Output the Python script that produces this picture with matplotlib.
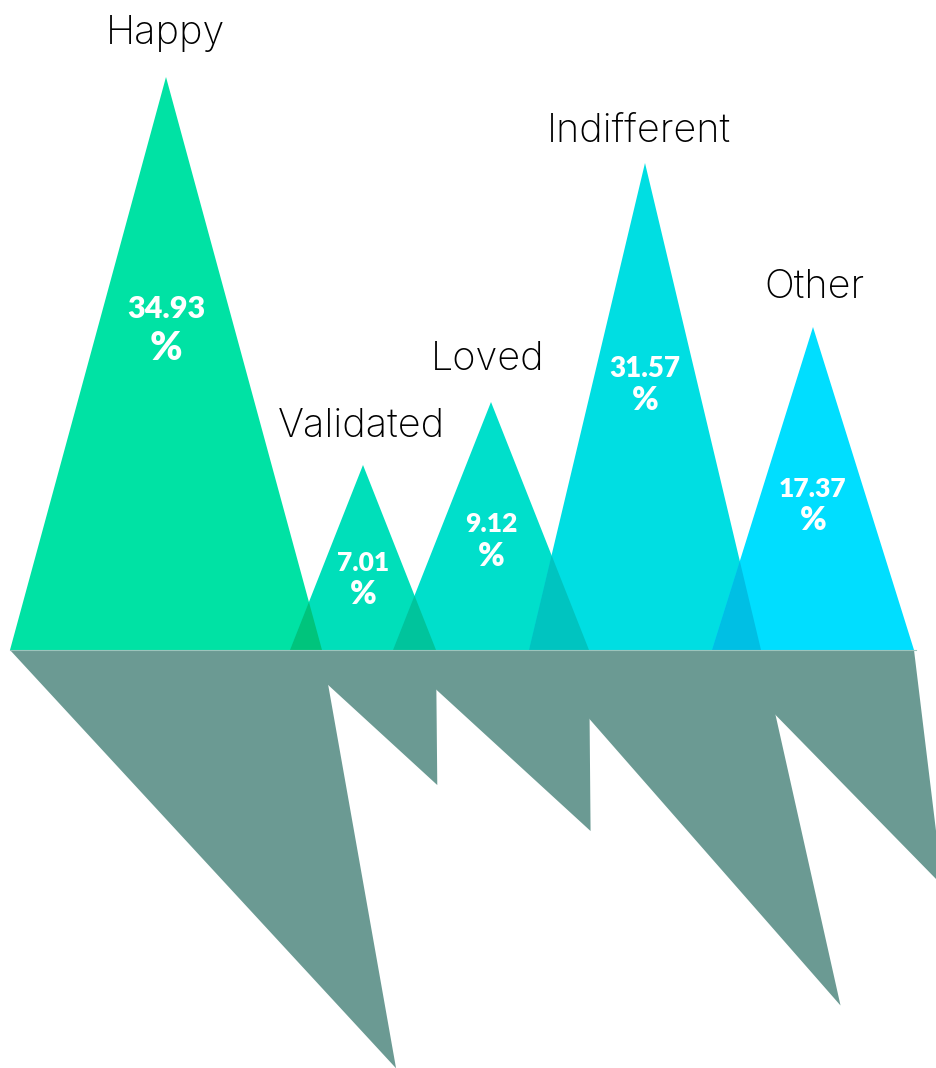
import matplotlib
matplotlib.use("Agg")
import matplotlib.pyplot as plt
from matplotlib.patches import Polygon

# ---- data ----
categories = ["Happy", "Validated", "Loved", "Indifferent", "Other"]
values = [34.93, 7.01, 9.12, 31.57, 17.37]          # percentage labels
peak_heights = [573, 185, 248, 487, 323]              # mountain heights (axis units)

# ---- geometry / style ----
centers = [166, 363, 491, 645, 813]
half_widths = [156, 73, 98, 116, 101]
base_y = 650
cat_label_x = [165, 361, 488, 639, 814]
cat_label_baseline = [44, 437, 370, 142, 298]
num_label_y = [309, 563, 524, 369, 489]
pct_label_y = [348, 594, 556, 401, 520]
num_fs = [22, 19, 19, 20, 19]
pct_fs = [28, 23, 23, 23, 23]
colors = ["#00E2A4", "#00DFBA", "#00DFCB", "#00DEE2", "#00DEFF"]
overlap_colors = ["#00C47C", "#00C49C", "#00C4C0", "#00BFE4"]
shadow_color = "#6B9A93"
shadow_depth = 0.73
shadow_skew = 0.55

W, H = 936, 1068
fig = plt.figure(figsize=(W / 100, H / 100), dpi=100)
ax = fig.add_axes([0, 0, 1, 1])
ax.set_xlim(0, W)
ax.set_ylim(H, 0)
ax.axis("off")

# shadows
for c, hw, h in zip(centers, half_widths, peak_heights):
    d = shadow_depth * h
    tip = (c + shadow_skew * d, base_y + d)
    ax.add_patch(Polygon([(c - hw, base_y), (c + hw, base_y), tip],
                         closed=True, facecolor=shadow_color, edgecolor="none", zorder=1))

# mountains
for c, hw, h, col in zip(centers, half_widths, peak_heights, colors):
    ax.add_patch(Polygon([(c - hw, base_y), (c, base_y - h), (c + hw, base_y)],
                         closed=True, facecolor=col, edgecolor="none", zorder=2))

# overlaps between neighbours
for i in range(len(centers) - 1):
    c1, hw1, h1 = centers[i], half_widths[i], peak_heights[i]
    c2, hw2, h2 = centers[i + 1], half_widths[i + 1], peak_heights[i + 1]
    R1 = c1 + hw1
    L2 = c2 - hw2
    if L2 >= R1:
        continue
    s1 = h1 / hw1
    s2 = h2 / hw2
    x = (s1 * R1 + s2 * L2) / (s1 + s2)
    y = base_y - s1 * (R1 - x)
    ax.add_patch(Polygon([(L2, base_y), (x, y), (R1, base_y)], closed=True,
                         facecolor=overlap_colors[i], edgecolor="none", zorder=3))

ax.plot([10, 916], [base_y, base_y], color="#9CC4BC", lw=0.8, zorder=4)

# category labels
for cat, x, yb in zip(categories, cat_label_x, cat_label_baseline):
    ax.text(x, yb, cat, ha="center", va="baseline", fontsize=28.5,
            family=["Inter", "DejaVu Sans"], fontweight="light", color="#000000", zorder=5)

# value labels
font = "Lato"
for v, c, yn, yp, fn, fp in zip(values, centers, num_label_y, pct_label_y, num_fs, pct_fs):
    ax.text(c, yn, f"{v:.2f}", ha="center", va="center", fontsize=fn,
            family=font, fontweight="heavy", color="white", zorder=5)
    ax.text(c, yp, "%", ha="center", va="center", fontsize=fp,
            family=font, fontweight="heavy", color="white", zorder=5)

fig.savefig("out.png", dpi=100)
